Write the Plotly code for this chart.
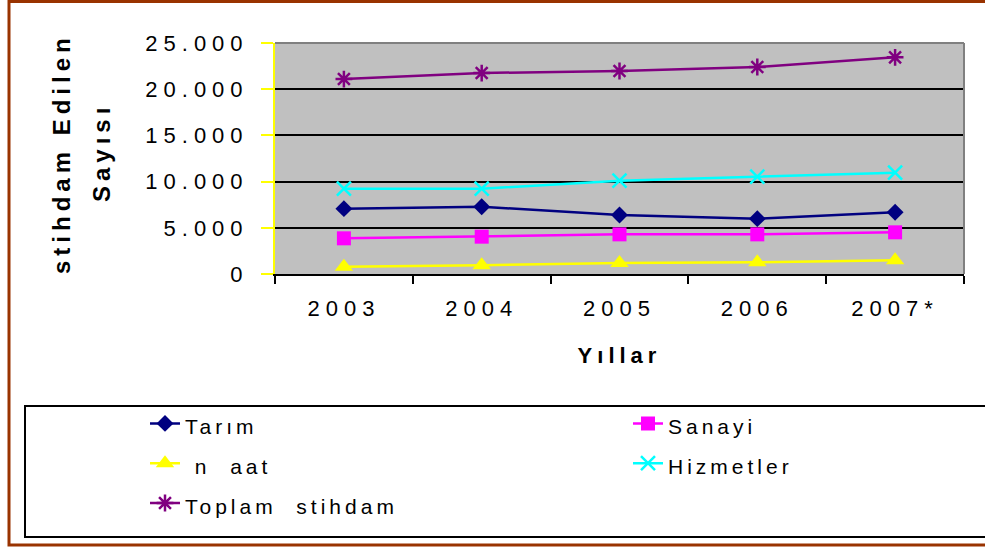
import plotly.graph_objects as go

# ---- data ----
years = ["2003", "2004", "2005", "2006", "2007*"]
tarim = [7070, 7280, 6390, 5990, 6680]
sanayi = [3860, 4040, 4290, 4290, 4510]
insaat = [790, 940, 1190, 1260, 1480]
hizmetler = [9230, 9230, 10100, 10530, 10960]
toplam = [21100, 21750, 21970, 22400, 23450]

series_names = ["Tarım", "Sanayi", "\u00a0n\u00a0\u00a0aat", "Hizmetler", "Toplam\u00a0\u00a0stihdam"]
y_tickvals = [0, 5000, 10000, 15000, 20000, 25000]
y_ticktext = ["0", "5.000", "10.000", "15.000", "20.000", "25.000"]

W, H = 985, 547
L, R, T, B = 275, 964, 43, 274  # plot area in pixels


def px(x):
    return (x - L) / (R - L)


def py(y):
    return (B - y) / (B - T)


def spaced(s, ls=5, size=None):
    fs = f"font-size:{size}px;" if size else ""
    return f'<span style="{fs}letter-spacing:{ls}px">{s}</span>'


FONT = "Liberation Sans, Arial, sans-serif"

styles = [
    dict(color="#000080", symbol="diamond", size=13),
    dict(color="#FF00FF", symbol="square", size=14),
    dict(color="#FFFF00", symbol="triangle-up", size=16),
    dict(color="#00FFFF", symbol="x-thin", size=14),
    dict(color="#800080", symbol="asterisk", size=14),
]
data = [tarim, sanayi, insaat, hizmetler, toplam]

fig = go.Figure()
for name, vals, st in zip(series_names, data, styles):
    open_marker = st["symbol"] in ("x-thin", "asterisk")
    marker = dict(symbol=st["symbol"], size=st["size"], color=st["color"])
    if open_marker:
        marker["line"] = dict(color=st["color"], width=2.5)
    else:
        marker["line"] = dict(width=0)
    fig.add_trace(go.Scatter(
        x=years, y=vals, mode="lines+markers",
        name=spaced(name, 4, 21),
        line=dict(color=st["color"], width=2.5),
        marker=marker,
    ))

fig.update_layout(
    width=W, height=H,
    margin=dict(l=L, r=W - R, t=T, b=H - B, autoexpand=False),
    paper_bgcolor="white",
    plot_bgcolor="#C0C0C0",
    font=dict(family=FONT, color="black"),
    showlegend=True,
    legend=dict(
        orientation="h",
        x=px(145), y=py(398.5), xanchor="left", yanchor="top",
        entrywidth=438, entrywidthmode="pixels",
        font=dict(size=28.3, family=FONT),
        bgcolor="rgba(0,0,0,0)",
        traceorder="normal",
    ),
)

fig.update_xaxes(
    type="category",
    range=[-0.5, 4.5],
    tickson="boundaries",
    ticks="outside", ticklen=8, tickwidth=2, tickcolor="black",
    showline=True, linecolor="black", linewidth=2,
    showgrid=False,
    tickvals=years,
    ticktext=[spaced(y, 6) for y in years],
    tickfont=dict(size=22, family=FONT),
    ticklabelstandoff=14,
    title=dict(text="<b>" + spaced("Yıllar", 5) + "</b>", font=dict(size=22, family=FONT), standoff=27),
)

fig.update_yaxes(
    range=[0, 25000],
    tickvals=y_tickvals,
    ticktext=[spaced(t, 6) for t in y_ticktext],
    tickfont=dict(size=22, family=FONT),
    ticks="outside", ticklen=12, tickwidth=2, tickcolor="#FFFF00",
    showline=True, linecolor="#FFFF00", linewidth=2,
    showgrid=True, gridcolor="black", gridwidth=2,
    zeroline=False,
    ticklabelstandoff=8,
)

# plot-area top/right border (gray)
fig.add_shape(type="line", xref="paper", yref="paper", x0=0, x1=1, y0=1, y1=1,
              line=dict(color="#808080", width=2), layer="above")
fig.add_shape(type="line", xref="paper", yref="paper", x0=1, x1=1, y0=0, y1=1,
              line=dict(color="#808080", width=2), layer="above")

# legend box
fig.add_shape(type="rect", xref="paper", yref="paper",
              x0=px(25), x1=px(1000), y0=py(537), y1=py(406),
              line=dict(color="black", width=2), fillcolor="rgba(0,0,0,0)")
# outer brown frame
fig.add_shape(type="rect", xref="paper", yref="paper",
              x0=px(9), x1=px(1005), y0=py(545), y1=py(1.5),
              line=dict(color="#993300", width=3), fillcolor="rgba(0,0,0,0)")

# y-axis title (two rotated lines)
fig.add_annotation(xref="paper", yref="paper", x=px(61), y=py(154),
                   text="<b>" + spaced("stihdam Edilen", 5) + "</b>", textangle=-90,
                   showarrow=False, xanchor="center", yanchor="middle",
                   font=dict(size=24, family=FONT))
fig.add_annotation(xref="paper", yref="paper", x=px(101), y=py(153),
                   text="<b>" + spaced("Sayısı", 5) + "</b>", textangle=-90,
                   showarrow=False, xanchor="center", yanchor="middle",
                   font=dict(size=24, family=FONT))

fig.write_html(
    "out.html",
    config={"displayModeBar": False},
    post_script="document.body.style.margin='0';document.body.style.overflow='hidden';",
)
